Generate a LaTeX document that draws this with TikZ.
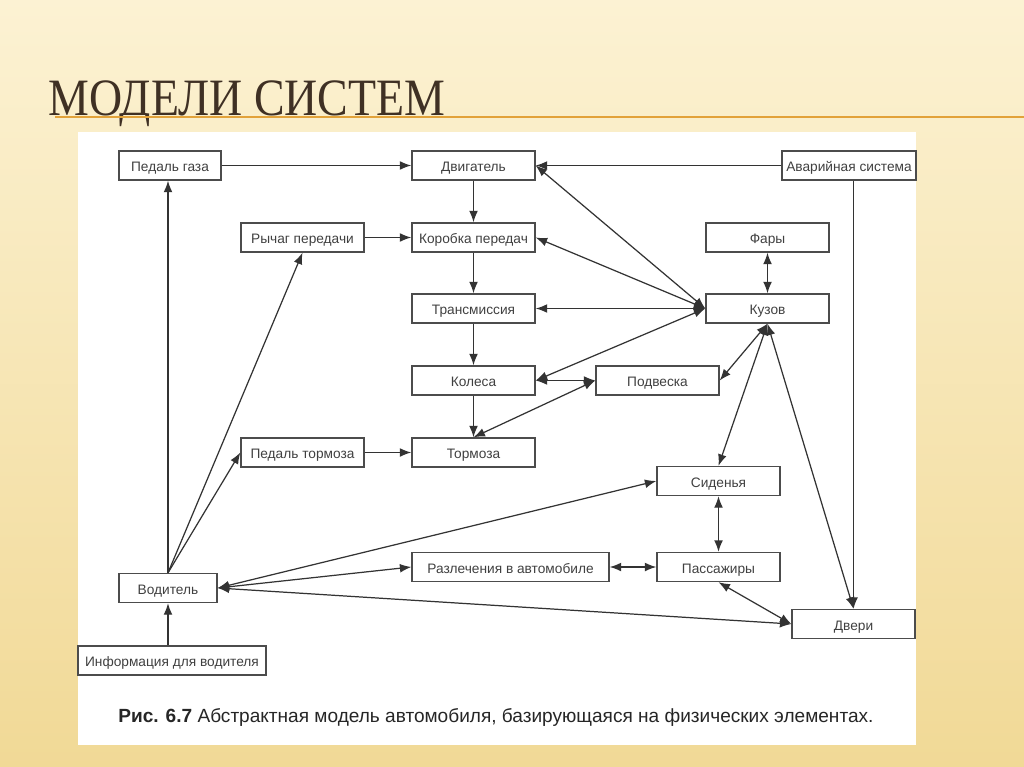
\documentclass[tikz,border=0pt]{standalone}
\usepackage{fontspec}
\setmainfont{Liberation Sans}
\newfontfamily\zagfont{Liberation Serif}
\usetikzlibrary{arrows.meta}
\definecolor{fon1}{HTML}{FCF2D3}
\definecolor{fon2}{HTML}{F1D996}
\definecolor{zagcol}{HTML}{3F3024}
\definecolor{liniya}{HTML}{E2A23A}

\begin{document}
\begin{tikzpicture}[x=0.02cm,y=-0.02cm]
    \tikzset{
        blok/.style={draw=black!70, line width=0.8pt, fill=white, minimum width=2.46cm, minimum height=0.58cm, inner sep=0pt, text height=1.6ex, text depth=0.3ex, font=\fontsize{7.8}{9}\selectfont, text=black!75},
        arc/.style={-{Latex[length=6.5pt,width=5pt]}, line width=0.7pt, draw=black!80},
        darc/.style={{Latex[length=6.5pt,width=5pt]}-{Latex[length=6.5pt,width=5pt]}, line width=0.7pt, draw=black!80}
    }
    \useasboundingbox (0,0) rectangle (1024,767);
    \shade[top color=fon1, bottom color=fon2] (0,0) rectangle (1024,767);

    % zagolovok
    \node[anchor=base west, inner sep=0pt, text=zagcol] (zag) at (48,115)
        {\scalebox{0.9}[1.03]{\zagfont\fontsize{29}{30}\selectfont МОДЕЛИ СИСТЕМ}};
    \coordinate (l1) at (55,117);
    \coordinate (l2) at (1024,117);
    \draw[liniya, line width=1.2pt] (l1) -- (l2);

    \fill[white] (78,132) rectangle (916,745);

    \draw node[blok, minimum width=2.04cm] (gas) at (170,165.5) {Педаль газа};
    \draw node[blok] (dvig) at (473.5,165.5) {Двигатель};
    \draw node[blok, minimum width=2.68cm] (avar) at (849,165.5) {Аварийная система};
    \draw node[blok] (rych) at (302.5,237.5) {Рычаг передачи};
    \draw node[blok] (korob) at (473.5,237.5) {Коробка передач};
    \draw node[blok] (fary) at (767.5,237.5) {Фары};
    \draw node[blok] (trans) at (473.5,308.5) {Трансмиссия};
    \draw node[blok] (kuzov) at (767.5,308.5) {Кузов};
    \draw node[blok] (koles) at (473.5,380.5) {Колеса};
    \draw node[blok] (podv) at (657.5,380.5) {Подвеска};
    \draw node[blok] (ptorm) at (302.5,452.5) {Педаль тормоза};
    \draw node[blok] (torm) at (473.5,452.5) {Тормоза};
    \draw node[blok] (siden) at (718.5,481) {Сиденья};
    \draw node[blok, minimum width=3.94cm] (razvl) at (510.5,567) {Разлечения в автомобиле};
    \draw node[blok] (pass) at (718.5,567) {Пассажиры};
    \draw node[blok, minimum width=1.96cm] (vod) at (168,588) {Водитель};
    \draw node[blok] (dveri) at (853.5,624) {Двери};
    \draw node[blok, minimum width=3.76cm] (info) at (172,660.5) {Информация для водителя};

    \draw[arc] (gas) -- (dvig);
    \draw[arc] (avar) -- (dvig);
    \draw[arc] (dvig) -- (korob);
    \draw[arc] (rych) -- (korob);
    \draw[arc] (korob) -- (trans);
    \draw[arc] (trans) -- (koles);
    \draw[arc] (koles) -- (torm);
    \draw[arc] (ptorm) -- (torm);
    \draw[darc] (kuzov.west) -- (dvig.east);
    \draw[darc] (kuzov.west) -- (korob.east);
    \draw[darc] (kuzov.west) -- (trans.east);
    \draw[darc] (kuzov.west) -- (koles.east);
    \draw[darc] (fary) -- (kuzov);
    \draw[darc] (kuzov.south) -- (podv.east);
    \draw[darc] (kuzov.south) -- (siden.north);
    \draw[darc] (kuzov.south) -- (dveri.north);
    \draw[arc] (avar.south -| dveri.north) -- (dveri.north);
    \draw[darc] (koles.east) -- (podv.west);
    \draw[darc] (podv.west) -- (torm.north);
    \draw[darc] (siden) -- (pass);
    \draw[darc] (razvl) -- (pass);
    \draw[darc] (pass.south) -- (dveri.west);
    \draw[arc] (vod.north) -- (vod.north |- gas.south);
    \draw[arc] (vod.north) -- (rych.south);
    \draw[arc] (vod.north) -- (ptorm.west);
    \draw[darc] (vod.east) -- (siden.west);
    \draw[darc] (vod.east) -- (razvl.west);
    \draw[darc] (vod.east) -- (dveri.west);
    \draw[arc] (vod.south |- info.north) -- (vod.south);

    \node[anchor=base west, inner sep=0pt, font=\fontsize{10.85}{13}\selectfont, text=black!85] (podpis) at (118,722)
        {\textbf{Рис. 6.7} Абстрактная модель автомобиля, базирующаяся на физических элементах.};
\end{tikzpicture}
\end{document}
